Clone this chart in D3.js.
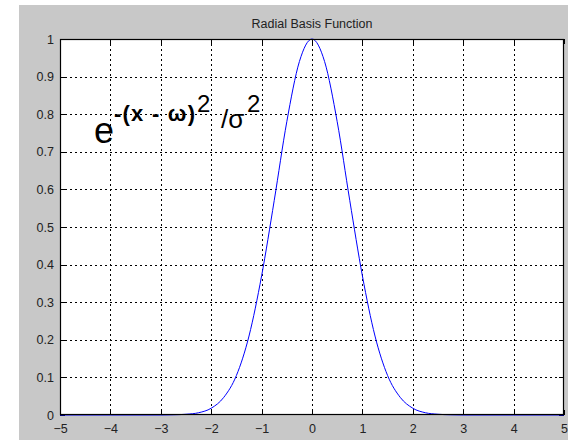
<!DOCTYPE html>
<html>
<head>
<meta charset="utf-8">
<script src="https://cdn.jsdelivr.net/npm/d3@7"></script>
<style>
  html, body { margin: 0; padding: 0; background: #fff; }
  svg { display: block; }
  text { font-family: Arial, "Liberation Sans", sans-serif; }
</style>
</head>
<body>
<svg id="chart" width="568" height="440"></svg>
<script>
// Sampled radial basis function values
const xValues = [-5, -4, -3, -2.75, -2.5, -2.25, -2, -1.75, -1.5, -1.25, -1, -0.75, -0.5, -0.25, 0,
                 0.25, 0.5, 0.75, 1, 1.25, 1.5, 1.75, 2, 2.25, 2.5, 2.75, 3, 4, 5];
const yValues = [0, 0, 0, 0.0005, 0.002, 0.006, 0.018, 0.047, 0.105, 0.21, 0.37, 0.57, 0.78, 0.94, 1,
                 0.94, 0.78, 0.57, 0.37, 0.21, 0.105, 0.047, 0.018, 0.006, 0.002, 0.0005, 0, 0, 0];
const xTicks = [-5, -4, -3, -2, -1, 0, 1, 2, 3, 4, 5];
const yTicks = [0, 0.1, 0.2, 0.3, 0.4, 0.5, 0.6, 0.7, 0.8, 0.9, 1];
const titleText = "Radial Basis Function";

const svg = d3.select("#chart");

// figure background
svg.append("rect").attr("x", 19).attr("y", 5).attr("width", 549).attr("height", 435).attr("fill", "#c8c8c8");

const plotLeft = 60, plotRight = 564, plotTop = 39, plotBottom = 415;
const x = d3.scaleLinear().domain([-5, 5]).range([plotLeft, plotRight]);
const y = d3.scaleLinear().domain([0, 1]).range([plotBottom, plotTop]);

// plot area
svg.append("rect").attr("x", plotLeft).attr("y", plotTop).attr("width", plotRight - plotLeft).attr("height", plotBottom - plotTop).attr("fill", "#fff");

const crisp = v => Math.round(v) + 0.5;

// dotted grid
const grid = svg.append("g").attr("stroke", "#000").attr("stroke-width", 1).attr("stroke-dasharray", "2,3").attr("shape-rendering", "crispEdges");
xTicks.slice(1, -1).forEach(t => {
  grid.append("line").attr("x1", crisp(x(t))).attr("x2", crisp(x(t))).attr("y1", plotTop).attr("y2", plotBottom);
});
yTicks.slice(1, -1).forEach(t => {
  grid.append("line").attr("y1", crisp(y(t))).attr("y2", crisp(y(t))).attr("x1", plotLeft).attr("x2", plotRight);
});

// inward tick marks on all four sides
const ticks = svg.append("g").attr("stroke", "#000").attr("stroke-width", 1).attr("shape-rendering", "crispEdges");
const tl = 5;
xTicks.forEach(t => {
  const px = crisp(x(t));
  ticks.append("line").attr("x1", px).attr("x2", px).attr("y1", plotBottom).attr("y2", plotBottom - tl);
  ticks.append("line").attr("x1", px).attr("x2", px).attr("y1", plotTop).attr("y2", plotTop + tl);
});
yTicks.forEach(t => {
  const py = crisp(y(t));
  ticks.append("line").attr("y1", py).attr("y2", py).attr("x1", plotLeft).attr("x2", plotLeft + tl);
  ticks.append("line").attr("y1", py).attr("y2", py).attr("x1", plotRight).attr("x2", plotRight - tl);
});

// curve
const line = d3.line().x((d, i) => x(xValues[i])).y(d => y(d)).curve(d3.curveMonotoneX);
svg.append("path").datum(yValues).attr("d", line).attr("fill", "none").attr("stroke", "#0000ff").attr("stroke-width", 1);

// frame
svg.append("rect").attr("x", plotLeft + 0.5).attr("y", plotTop + 0.5).attr("width", plotRight - plotLeft - 1).attr("height", plotBottom - plotTop - 1)
  .attr("fill", "none").attr("stroke", "#000").attr("stroke-width", 1.2);

// axis labels
const xAxis = d3.axisBottom(x).tickValues(xTicks).tickSize(0).tickPadding(9).tickFormat(d3.format("d"));
const gx = svg.append("g").attr("transform", `translate(0,${plotBottom})`).call(xAxis);
const yAxis = d3.axisLeft(y).tickValues(yTicks).tickSize(0).tickPadding(6).tickFormat(d => d === 0 || d === 1 ? d3.format("d")(d) : d3.format(".1f")(d));
const gy = svg.append("g").attr("transform", `translate(${plotLeft},0)`).call(yAxis);
[gx, gy].forEach(g => {
  g.select(".domain").remove();
  g.selectAll("text").attr("font-family", "Arial, 'Liberation Sans', sans-serif").attr("font-size", 12.5).attr("fill", "#222");
});

// title
svg.append("text").attr("x", (plotLeft + plotRight) / 2).attr("y", 28).attr("text-anchor", "middle")
  .attr("font-size", 12.5).attr("fill", "#222").text(titleText);

// formula annotation
const f = svg.append("g").attr("fill", "#000");
f.append("text").attr("x", 94).attr("y", 143).attr("font-size", 36).text("e");
f.append("text").attr("x", 114).attr("y", 121).attr("font-size", 22).attr("font-weight", "bold")
  .attr("textLength", 81).attr("lengthAdjust", "spacing").text("-(x - ω)");
f.append("text").attr("x", 197).attr("y", 112).attr("font-size", 24).text("2");
f.append("text").attr("x", 221).attr("y", 128).attr("font-size", 26).text("/σ");
f.append("text").attr("x", 247).attr("y", 112).attr("font-size", 24).text("2");
</script>
</body>
</html>
